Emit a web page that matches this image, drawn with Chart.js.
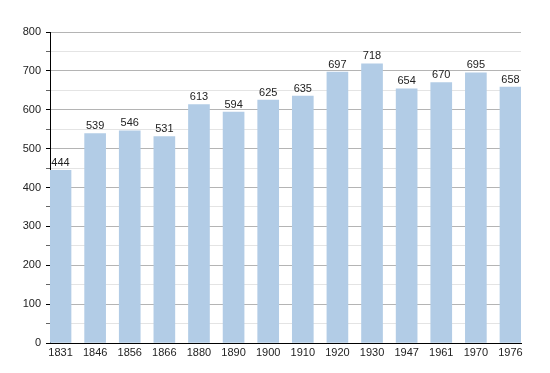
<!DOCTYPE html>
<html>
<head>
<meta charset="utf-8">
<script src="https://cdn.jsdelivr.net/npm/chart.js@4"></script>
<style>
    html, body { margin: 0; padding: 0; background: #fff; }
    #wrap { width: 550px; height: 373px; }
</style>
</head>
<body>
<div id="wrap"><canvas id="pop"></canvas></div>
<script>
// data
const years = ["1831", "1846", "1856", "1866", "1880", "1890", "1900", "1910", "1920", "1930", "1947", "1961", "1970", "1976"];
const population = [444, 539, 546, 531, 613, 594, 625, 635, 697, 718, 654, 670, 695, 658];
const yTicks = [0, 100, 200, 300, 400, 500, 600, 700, 800];

const barColor = "rgb(178, 204, 230)";

// write the value above each bar
const valueLabels = {
    id: "valueLabels",
    afterDatasetsDraw(chart) {
        const ctx = chart.ctx;
        const meta = chart.getDatasetMeta(0);
        ctx.save();
        ctx.font = "11px 'Liberation Sans', Arial, sans-serif";
        ctx.fillStyle = "#222";
        ctx.textAlign = "center";
        ctx.textBaseline = "bottom";
        meta.data.forEach((bar, i) => {
            ctx.fillText(population[i], bar.x, bar.y - 2);
        });
        ctx.restore();
    }
};

const pop = document.getElementById("pop");
const popChart = new Chart(pop, {
    type: "bar",
    data: {
        datasets: [
            {
                data: population.map((v, i) => ({ x: i, y: v })),
                backgroundColor: barColor,
                borderWidth: 0,
                barThickness: 21,
            },
        ],
    },
    options: {
        responsive: true,
        maintainAspectRatio: false,
        animation: false,
        layout: { padding: { top: 32, right: 29, left: 0, bottom: 0 } },
        plugins: {
            legend: { display: false },
            tooltip: { enabled: false },
        },
        scales: {
            x: {
                type: "linear",
                offset: false,
                min: -0.304,
                max: 13.304,
                afterBuildTicks: (axis) => {
                    axis.ticks = years.map((_, i) => ({ value: i }));
                },
                afterFit: (axis) => { axis.height = 30; },
                grid: { display: false, drawTicks: false, tickLength: 0 },
                border: { display: true, color: "#000", width: 1 },
                ticks: {
                    autoSkip: false,
                    maxRotation: 0,
                    padding: 3,
                    color: "#222",
                    font: { family: "'Liberation Sans', Arial, sans-serif", size: 11 },
                    callback: (v) => years[v],
                },
            },
            y: {
                min: 0,
                max: 800,
                afterFit: (axis) => { axis.width = 50; },
                ticks: {
                    stepSize: 50,
                    padding: 5,
                    color: "#222",
                    font: { family: "'Liberation Sans', Arial, sans-serif", size: 11 },
                    callback: (v) => (yTicks.includes(v) ? v : ""),
                },
                grid: {
                    color: (c) => (c.tick && c.tick.value % 100 === 0 ? "#b4b4b4" : "#e4e4e4"),
                    tickColor: (c) => (c.tick && c.tick.value % 100 === 0 ? "#000" : "#666"),
                    tickLength: 4,
                    lineWidth: 1,
                },
                border: { display: true, color: "#000", width: 1 },
            },
        },
    },
    plugins: [valueLabels],
});
</script>
</body>
</html>
